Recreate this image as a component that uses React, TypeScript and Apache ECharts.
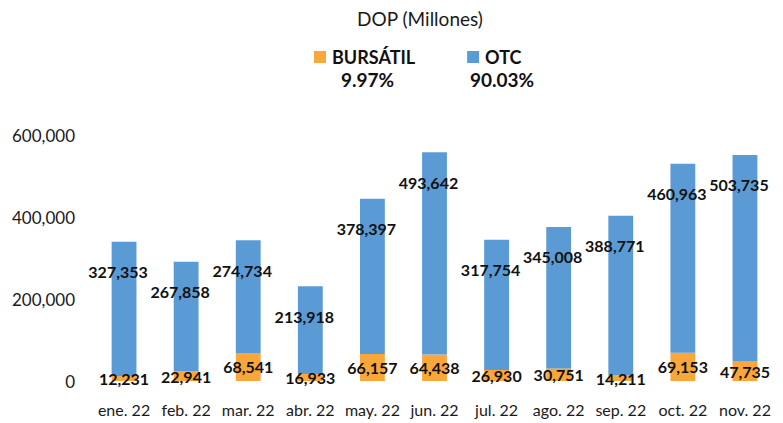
import React, { useEffect, useRef } from "react";
import * as echarts from "echarts";

const categories = ["ene. 22", "feb. 22", "mar. 22", "abr. 22", "may. 22", "jun. 22", "jul. 22", "ago. 22", "sep. 22", "oct. 22", "nov. 22"];
const bursatil = [12231, 22941, 68541, 16933, 66157, 64438, 26930, 30751, 14211, 69153, 47735];
const otc = [327353, 267858, 274734, 213918, 378397, 493642, 317754, 345008, 388771, 460963, 503735];
const yTicks = { min: 0, max: 600000, interval: 200000 };
const seriesNames = ["BURSÁTIL", "OTC"];
const title = "DOP (Millones)";

const FONT = "Lato";
const fmt = (v: number) => Math.round(v).toLocaleString("en-US");

export default function App() {
  const ref = useRef<HTMLDivElement>(null);
  useEffect(() => {
    document.body.style.margin = "0";
    if (!ref.current) return;
    const chart = echarts.init(ref.current, null, { renderer: "svg" });
    const sumB = bursatil.reduce((a, b) => a + b, 0);
    const sumO = otc.reduce((a, b) => a + b, 0);
    const total = sumB + sumO;
    const pctB = ((sumB / total) * 100).toFixed(2) + "%";
    const pctO = ((sumO / total) * 100).toFixed(2) + "%";
    chart.setOption({
      animation: false,
      textStyle: { fontFamily: FONT },
      title: {
        text: title,
        left: 415,
        textAlign: "center",
        top: 4,
        textStyle: { fontFamily: FONT, fontSize: 19, fontWeight: "normal", color: "#1a1a1a" },
      },
      legend: {
        data: seriesNames,
        left: 309,
        top: 43,
        itemWidth: 12,
        itemHeight: 12,
        itemGap: 52,
        icon: "rect",
        textStyle: { fontFamily: FONT, fontSize: 18, fontWeight: "bold", color: "#111", padding: [0, 0, 0, 1] },
      },
      graphic: [
        {
          type: "text",
          left: 341,
          top: 70,
          style: { text: pctB, fontFamily: FONT, fontSize: 19, fontWeight: "bold", fill: "#111" },
        },
        {
          type: "text",
          left: 470,
          top: 70,
          style: { text: pctO, fontFamily: FONT, fontSize: 19, fontWeight: "bold", fill: "#111" },
        },
      ],
      grid: { left: 93, right: 7, top: 135, bottom: 42, containLabel: false },
      xAxis: {
        type: "category",
        data: categories,
        axisLine: { show: false },
        axisTick: { show: false },
        axisLabel: { margin: 20, fontFamily: FONT, fontSize: 16, color: "#1a1a1a", interval: 0 },
      },
      yAxis: {
        type: "value",
        min: yTicks.min,
        max: yTicks.max,
        interval: yTicks.interval,
        splitLine: { show: false },
        axisLine: { show: false },
        axisTick: { show: false },
        axisLabel: { margin: 18, fontFamily: FONT, fontSize: 17, color: "#1a1a1a", formatter: (v: number) => fmt(v) },
      },
      series: [
        {
          name: seriesNames[0],
          type: "bar",
          stack: "total",
          data: bursatil,
          barWidth: "40%",
          itemStyle: { color: "#F9A73A" },
          label: {
            show: true,
            position: "inside",
            formatter: (p: any) => fmt(p.value),
            fontFamily: FONT,
            fontSize: 16,
            fontWeight: "bold",
            color: "#111",
          },
        },
        {
          name: seriesNames[1],
          type: "bar",
          stack: "total",
          data: otc,
          barWidth: "40%",
          itemStyle: { color: "#5B9BD5" },
          label: {
            show: true,
            position: "insideTop",
            distance: 22,
            offset: [-6, 0],
            formatter: (p: any) => fmt(p.value),
            fontFamily: FONT,
            fontSize: 16,
            fontWeight: "bold",
            color: "#111",
          },
        },
      ],
    });
    return () => chart.dispose();
  }, []);
  return <div ref={ref} style={{ width: 783, height: 423 }} />;
}
